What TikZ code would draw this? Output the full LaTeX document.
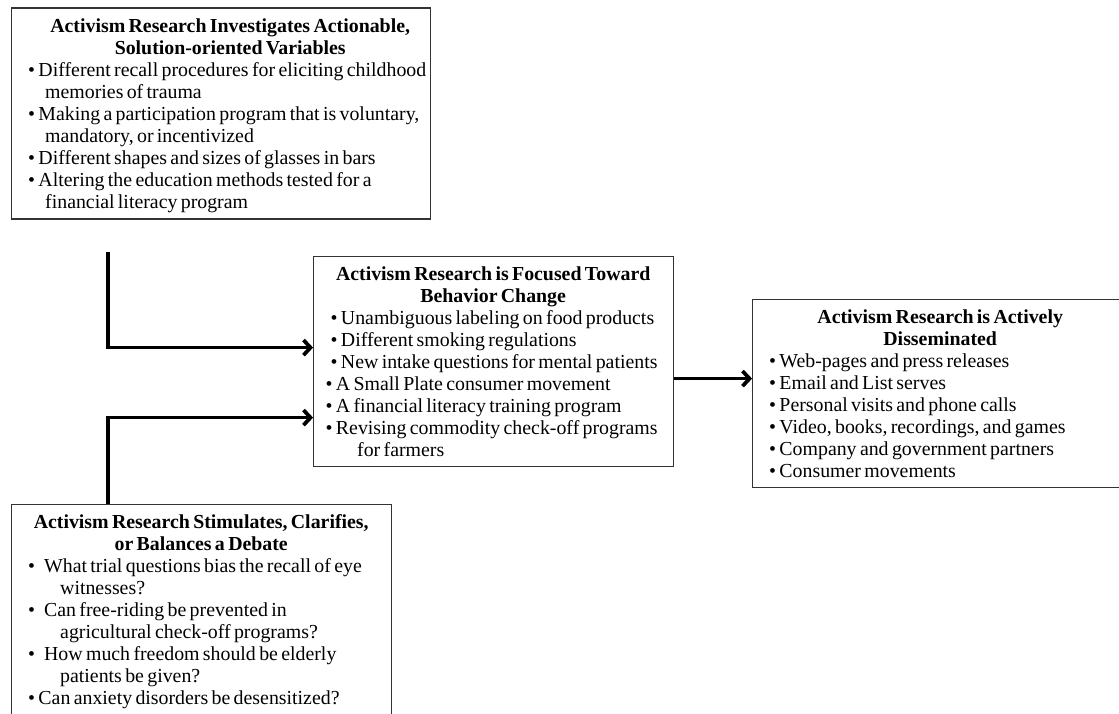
\documentclass[tikz,border=0pt]{standalone}
\usepackage{fontspec}
\setmainfont{Liberation Serif}
\usetikzlibrary{arrows.meta}
\newcommand\bxfont{\fontsize{19.85pt}{22pt}\selectfont}
\newcommand\itm[1]{\mbox{\textbullet\ #1}}
\newcommand\itmw[1]{\mbox{\textbullet\hspace{9pt}#1}}
\newcommand\cont[2]{\mbox{\hspace*{#1}#2}}
\tikzset{
  frame/.style={draw=black!80, line width=1.2pt, inner sep=0pt, anchor=north west},
  txt/.style={inner sep=0pt, anchor=base west, align=left},
  conn/.style={line width=3.6pt, line join=miter, -{Straight Barb[length=7pt,width=15pt]}},
  connshadow/.style={conn, draw=black!35, shift={(1.4pt,-1.6pt)}},
}
\begin{document}
\begin{tikzpicture}[x=1pt,y=-1pt]
\useasboundingbox (0,0) rectangle (1119,713);
\clip (0,0) rectangle (1119,713);
\fill[white] (0,0) rectangle (1119,713);

% boxes
\node[frame, minimum width=419pt, minimum height=211pt] (b1) at (11,7.3) {};
\node[frame, minimum width=360pt, minimum height=210pt] (b2) at (313,256) {};
\node[frame, minimum width=380pt, minimum height=188pt] (b3) at (752,299) {};
\node[frame, minimum width=380pt, minimum height=230pt] (b4) at (11,504) {};

% texts
\node[txt, text width=404pt] (t1) at (28,32) {\bxfont
{\centering\bfseries Activism Research Investigates Actionable,\\ Solution-oriented Variables\par}
\itm{Different recall procedures for eliciting childhood}\\
\cont{17pt}{memories of trauma}\\
\itm{Making a participation program that is voluntary,}\\
\cont{17pt}{mandatory, or incentivized}\\
\itm{Different shapes and sizes of glasses in bars}\\
\itm{Altering the education methods tested for a}\\
\cont{17pt}{financial literacy program}\par};

\node[txt, text width=335pt] (t2) at (325.5,280) {\bxfont
{\centering\bfseries Activism Research is Focused Toward\\ Behavior Change\par}
\cont{5pt}{\itm{Unambiguous labeling on food products}}\\
\cont{5pt}{\itm{Different smoking regulations}}\\
\cont{5pt}{\itm{New intake questions for mental patients}}\\
\itm{A Small Plate consumer movement}\\
\itm{A financial literacy training program}\\
\itm{Revising commodity check-off programs}\\
\cont{31.5pt}{for farmers}\par};

\node[txt, text width=342pt] (t3) at (769,323) {\bxfont
{\centering\bfseries Activism Research is Actively\\ Disseminated\par}
\itm{Web-pages and press releases}\\
\itm{Email and List serves}\\
\itm{Personal visits and phone calls}\\
\itm{Video, books, recordings, and games}\\
\itm{Company and government partners}\\
\itm{Consumer movements}\par};

\node[txt, text width=346pt] (t4) at (28,528) {\bxfont
{\centering\bfseries Activism Research Stimulates, Clarifies,\\ or Balances a Debate\par}
\itmw{What trial questions bias the recall of eye}\\
\cont{32pt}{witnesses?}\\
\itmw{Can free-riding be prevented in}\\
\cont{32pt}{agricultural check-off programs?}\\
\itmw{How much freedom should be elderly}\\
\cont{32pt}{patients be given?}\\
\itm{Can anxiety disorders be desensitized?}\par};

% connectors
\coordinate (c1) at (108,252);
\draw[connshadow] (c1) |- ([yshift=14pt]b2.west);
\draw[connshadow] (b4.north -| c1) |- ([yshift=-56pt]b2.west);
\draw[connshadow] ([yshift=-17pt]b2.east) -- ([yshift=15pt]b3.west);
\draw[conn] (c1) |- ([yshift=14pt]b2.west);
\draw[conn] (b4.north -| c1) |- ([yshift=-56pt]b2.west);
\draw[conn] ([yshift=-17pt]b2.east) -- ([yshift=15pt]b3.west);
\end{tikzpicture}
\end{document}
